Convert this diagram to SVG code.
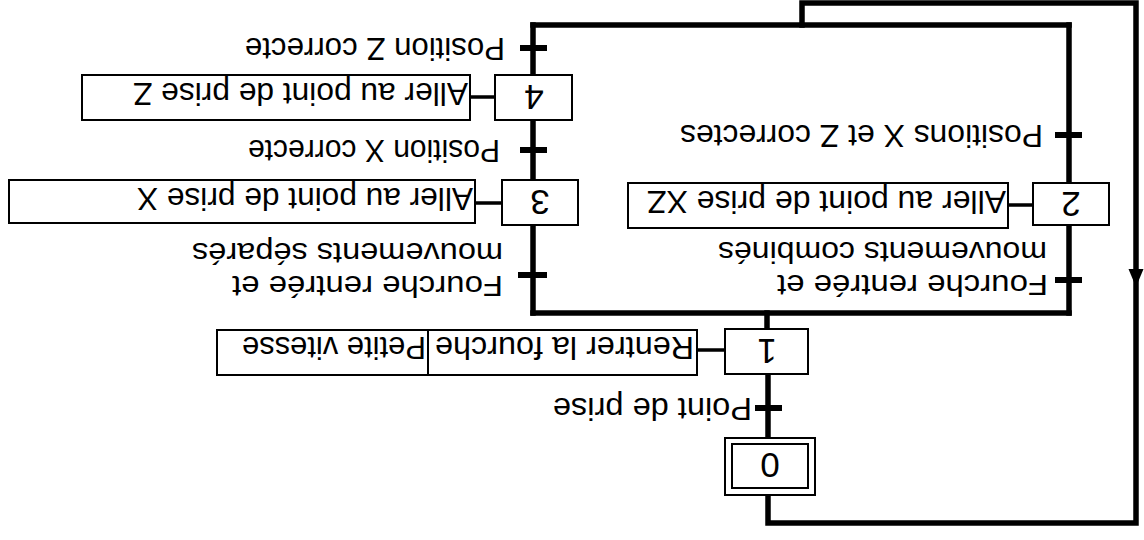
<svg xmlns="http://www.w3.org/2000/svg" width="1144" height="540" viewBox="0 0 1144 540">
<style>
.ln{stroke:#000;stroke-width:5.5;fill:none;stroke-linecap:square}
.lk{stroke:#000;stroke-width:3.5;fill:none}
.tk{stroke:#000;stroke-width:6;fill:none}
.bx{stroke:#000;stroke-width:2;fill:#fff}
.t{font-family:"Liberation Sans",Arial,Helvetica,sans-serif;font-size:32px;fill:#000}
.t2{font-family:"Liberation Sans",Arial,Helvetica,sans-serif;font-size:30px;fill:#000}
.n{font-family:"Liberation Sans",Arial,Helvetica,sans-serif;font-size:35px;fill:#000;text-anchor:middle}
</style>
<rect width="1144" height="540" fill="#fff"/>
<g transform="rotate(180 572 270)">
<g id="connectors">
<path class="ln" d="M342 515 V537 H8 V17 H376 V45"/>
<path class="ln" d="M376 102 V166"/>
<path class="ln" d="M377 211 V227"/>
<path class="ln" d="M75 227 H611"/>
<path class="ln" d="M75 227 V315 M75 357 V515"/>
<path class="ln" d="M611 227 V315 M611 360 V420 M611 465 V515"/>
<path class="ln" d="M75 515 H611"/>
<polygon points="8,253 0.5,271 15.5,271" fill="#000"/>
<path class="lk" d="M419 190 H447 M111 335 H136 M642 337 H669 M649 443 H674"/>
</g>
<g id="step0">
<rect class="bx" x="329" y="45" width="90" height="57"/>
<rect class="bx" x="336" y="52" width="76" height="44"/>
<text class="n" x="374" y="87">0</text>
</g>
<g id="t01">
<path class="tk" d="M362 132 H389"/>
<text class="t" x="392" y="142" textLength="199" lengthAdjust="spacingAndGlyphs">Point de prise</text>
</g>
<g id="step1">
<rect class="bx" x="336" y="166" width="83" height="45"/>
<text class="n" x="377" y="201">1</text>
</g>
<g id="action1">
<rect class="bx" x="447" y="165" width="269" height="45"/>
<rect class="bx" x="716" y="165" width="211" height="45"/>
<text class="t" x="450" y="203" textLength="259" lengthAdjust="spacingAndGlyphs">Rentrer la fourche</text>
<text class="t" x="718" y="203" textLength="184" lengthAdjust="spacingAndGlyphs">Petite vitesse</text>
</g>
<g id="t12">
<path class="tk" d="M62 260 H89"/>
<text class="t2" x="96" y="265" textLength="271" lengthAdjust="spacingAndGlyphs">Fourche rentrée et</text>
<text class="t2" x="97" y="298" textLength="329" lengthAdjust="spacingAndGlyphs">mouvements combinés</text>
</g>
<g id="step2">
<rect class="bx" x="35" y="315" width="76" height="42"/>
<text class="n" x="73" y="348">2</text>
</g>
<g id="action2">
<rect class="bx" x="136" y="312" width="380" height="45"/>
<text class="t" x="138" y="349" textLength="359" lengthAdjust="spacingAndGlyphs">Aller au point de prise XZ</text>
</g>
<g id="t2">
<path class="tk" d="M62 405 H89"/>
<text class="t" x="101" y="415" textLength="363" lengthAdjust="spacingAndGlyphs">Positions X et Z correctes</text>
</g>
<g id="t13">
<path class="tk" d="M597 265 H626"/>
<text class="t2" x="641" y="264" textLength="271" lengthAdjust="spacingAndGlyphs">Fourche rentrée et</text>
<text class="t2" x="641" y="297" textLength="311" lengthAdjust="spacingAndGlyphs">mouvements séparés</text>
</g>
<g id="step3">
<rect class="bx" x="566" y="315" width="76" height="45"/>
<text class="n" x="604" y="350">3</text>
</g>
<g id="action3">
<rect class="bx" x="669" y="317" width="466" height="43"/>
<text class="t" x="671" y="352" textLength="336" lengthAdjust="spacingAndGlyphs">Aller au point de prise X</text>
</g>
<g id="t34">
<path class="tk" d="M597 390 H624"/>
<text class="t" x="644" y="400" textLength="252" lengthAdjust="spacingAndGlyphs">Position X correcte</text>
</g>
<g id="step4">
<rect class="bx" x="572" y="420" width="77" height="45"/>
<text class="n" x="610" y="455">4</text>
</g>
<g id="action4">
<rect class="bx" x="674" y="420" width="388" height="45"/>
<text class="t" x="676" y="457" textLength="335" lengthAdjust="spacingAndGlyphs">Aller au point de prise Z</text>
</g>
<g id="t4">
<path class="tk" d="M597 492 H624"/>
<text class="t" x="639" y="502" textLength="260" lengthAdjust="spacingAndGlyphs">Position Z correcte</text>
</g>
</g>
</svg>
